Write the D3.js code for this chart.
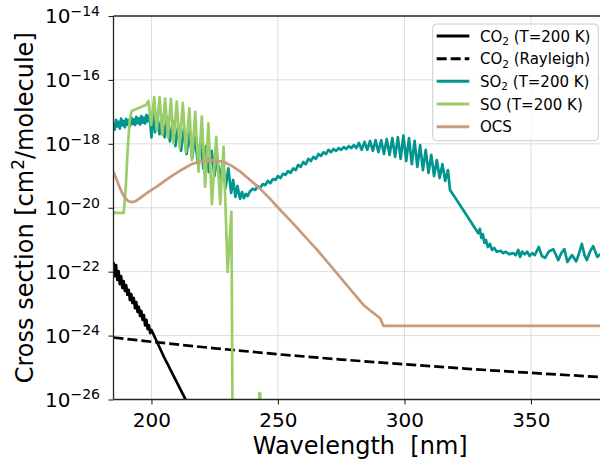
<!DOCTYPE html>
<html>
<head>
<meta charset="utf-8">
<script src="https://cdn.jsdelivr.net/npm/d3@7"></script>
<style>
  body { margin: 0; background: #fff; }
  svg { display: block; }
  text { font-family: "DejaVu Sans", sans-serif; fill: #000; }
</style>
</head>
<body>
<svg id="chart" width="600" height="463"></svg>
<script>
// Absorption cross sections [cm^2/molecule] versus wavelength [nm]

const co2T200 = [
  [185.0,2.0e-22],[185.5,7.3e-23],[186.0,1.6e-22],[186.5,5.5e-23],[187.0,1.05e-22],[187.5,4.1e-23],
  [188.0,7.3e-23],[188.5,3.1e-23],[189.0,5.1e-23],[189.5,2.5e-23],[190.0,3.8e-23],[190.5,1.9e-23],
  [191.0,2.7e-23],[191.5,1.3e-23],[192.0,2.0e-23],[192.5,1.05e-23],[193.0,1.5e-23],[193.5,7.2e-24],
  [194.0,1.12e-23],[194.5,5.5e-24],[195.0,7.9e-24],[195.5,4.1e-24],[196.0,5.9e-24],[196.5,3.1e-24],
  [197.0,4.4e-24],[197.5,2.1e-24],[198.0,3.1e-24],[198.5,1.6e-24],[199.0,2.1e-24],[199.5,1.2e-24],
  [200.0,1.5e-24],[205.0,2.1e-25],[210.0,3.5e-26],[215.0,5.8e-27],[220.0,9.6e-28]
];

const co2Rayleigh = [
  [185,8.7e-25],[200,6.4e-25],[225,4.0e-25],[250,2.6e-25],[275,1.78e-25],
  [300,1.26e-25],[325,9.1e-26],[350,6.8e-26],[380,4.9e-26]
];

const so2T200 = [
  [185.0,4.5e-18],[185.5,2.8e-18],[186.0,5.6e-18],[186.5,3.5e-18],[187.0,4.9e-18],[187.5,3.0e-18],
  [188.0,6.2e-18],[188.5,3.8e-18],[189.0,5.2e-18],[189.5,3.3e-18],[190.0,6.0e-18],[190.5,4.0e-18],
  [191.0,5.5e-18],[191.5,3.6e-18],[192.0,6.8e-18],[192.5,4.2e-18],[193.0,5.8e-18],[193.5,3.9e-18],
  [194.0,7.0e-18],[194.5,4.4e-18],[195.0,6.3e-18],[195.5,4.0e-18],[196.0,7.4e-18],[196.5,4.6e-18],
  [197.0,6.6e-18],[197.5,4.3e-18],[198.0,8.0e-18],[198.5,5.0e-18],[199.0,7.6e-18],[199.5,5.2e-18],
  [200.0,1.6e-18],[200.6,1.0e-17],[201.4,2.3e-18],[202.3,8.5e-18],[203.2,2.0e-18],[204.2,7.4e-18],
  [205.2,1.6e-18],[206.2,6.5e-18],[207.3,1.2e-18],[208.4,5.1e-18],[209.5,8.5e-19],[210.6,3.9e-18],
  [211.7,6.0e-19],[212.8,2.9e-18],[213.9,4.8e-19],[215.0,2.2e-18],[216.1,3.6e-19],[217.2,1.6e-18],
  [218.3,2.5e-19],[219.4,1.2e-18],[220.5,1.7e-19],[221.6,8.5e-19],[222.7,1.3e-19],[223.8,6.0e-19],
  [224.9,9.8e-20],[226.0,4.2e-19],[227.1,6.9e-20],[228.2,2.9e-19],[229.3,4.2e-20],[230.4,1.7e-19],
  [231.5,2.9e-20],[232.3,7.4e-20],[233.2,2.2e-20],[234.0,4.8e-20],[235.0,1.9e-20],[235.8,3.1e-20],
  [236.5,2.0e-20],[237.3,2.7e-20],[238.0,2.3e-20],[239.0,3.3e-20],[240.0,3.9e-20],
  [241,3.6e-20],[242,4.8e-20],[243,4.2e-20],[244,5.5e-20],[245,5.1e-20],[246,6.9e-20],[247,5.9e-20],
  [248,7.9e-20],[249,7.4e-20],[250,9.8e-20],[251,8.5e-20],[252,1.15e-19],[253,1.07e-19],[254,1.4e-19],
  [255,1.23e-19],[256,1.7e-19],[257,1.5e-19],[258,2.2e-19],[259,1.9e-19],[260,2.7e-19],[261,2.3e-19],
  [262,3.4e-19],[263,2.9e-19],[264,3.9e-19],[265,3.4e-19],[266,4.8e-19],[267,4.2e-19],[268,5.5e-19],
  [269,4.8e-19],[270,6.5e-19],[271,5.5e-19],[272,6.9e-19],[273,6.0e-19],[274,7.4e-19],[275,6.5e-19],
  [276,7.9e-19],[277,6.9e-19],[278,8.5e-19],[279,7.4e-19],[280,9.1e-19],[281,7.4e-19],
  [282.0,1.07e-18],[283.1,6.5e-19],[284.2,1.15e-18],[285.3,6.5e-19],[286.4,1.23e-18],[287.5,6.0e-19],
  [288.6,1.3e-18],[289.7,5.5e-19],[290.8,1.3e-18],[291.9,4.8e-19],[293.0,1.4e-18],[294.1,4.5e-19],
  [295.2,1.5e-18],[296.3,3.9e-19],[297.4,1.6e-18],[298.5,3.4e-19],[299.6,1.8e-18],[300.7,2.9e-19],
  [301.8,1.5e-18],[302.9,2.3e-19],[304.0,1.23e-18],[305.1,1.9e-19],[306.2,9.1e-19],[307.3,1.5e-19],
  [308.4,6.5e-19],[309.5,1.23e-19],[310.6,4.5e-19],[311.7,9.8e-20],[312.8,3.1e-19],[313.9,8.5e-20],
  [315.0,2.3e-19],[316.1,6.9e-20],[317.2,1.5e-19],[318.0,3.6e-20],
  [320,2.1e-20],[322,1.2e-20],[324,6.9e-21],[326,3.9e-21],[328,2.2e-21],[329.2,1.6e-21],
  [329.8,2.2e-21],[330.4,1.12e-21],[331.0,1.5e-21],[331.6,7.9e-22],[332.2,9.8e-22],[333.0,5.9e-22],
  [333.8,7.4e-22],[334.6,4.8e-22],[335.5,5.5e-22],[336.5,4.2e-22],[338,4.5e-22],[339,3.8e-22],
  [340,4.2e-22],[341.5,3.5e-22],[343,3.8e-22],[344,3.3e-22],[345,4.8e-22],[345.7,2.9e-22],
  [346.5,4.2e-22],[347.5,3.5e-22],[348.5,4.2e-22],[349.5,3.1e-22],[350.5,3.8e-22],[351.5,3.3e-22],
  [353.1,5.9e-22],[354.3,3.1e-22],[355.6,2.7e-22],[357,4.2e-22],[358.8,5.1e-22],[360.8,2.3e-22],
  [362,3.8e-22],[363.2,5.1e-22],[364.4,2.0e-22],[366.2,3.3e-22],[367.9,2.1e-22],[368.9,3.5e-22],
  [370.1,7.4e-22],[371.2,3.3e-22],[372.1,2.3e-22],[373.3,4.2e-22],[374.6,6.3e-22],[376.2,2.9e-22],
  [377.4,3.5e-22],[379,4.2e-22]
];

const soT200 = [
  [185.0,6.9e-21],[189.0,6.9e-21],[189.8,3.6e-20],[190.6,6.5e-19],[191.4,5.6e-18],[192.2,1.07e-17],
  [194.0,1.23e-17],[195.9,1.41e-17],[197.9,1.66e-17],[198.8,2.2e-17],[199.9,3.9e-18],[201.1,2.9e-17],
  [202.1,2.7e-18],[203.2,2.9e-17],[204.3,1.9e-18],[205.4,2.6e-17],[206.5,1.6e-18],[207.7,2.5e-17],
  [208.7,1.07e-18],[210.0,2.1e-17],[211.1,7.9e-19],[212.4,1.9e-17],[213.6,5.5e-19],[215.0,1.3e-17],
  [216.0,3.1e-19],[217.3,1.0e-17],[218.6,1.35e-19],[219.9,7.1e-18],[221.2,4.6e-20],[222.5,4.4e-18],
  [223.9,1.3e-20],[225.6,1.66e-18],[227.2,1.3e-20],[228.5,8.1e-19],[230.1,9.8e-23],[231.6,7.4e-21],
  [232.3,1e-30],[242.3,1e-30],[242.6,1.6e-26],[243.0,1.6e-26],[243.3,1e-30],[250.0,1e-30]
];

const ocs = [
  [185.0,1.32e-19],[186.0,8.5e-20],[187.2,4.8e-20],[188.4,2.9e-20],[189.6,2.0e-20],[191.0,1.6e-20],
  [192.4,1.5e-20],[193.6,1.58e-20],[195.5,2.0e-20],[198.7,3.1e-20],[202.1,4.6e-20],[205.4,7.1e-20],
  [208.7,1.07e-19],[212.0,1.55e-19],[215.3,2.2e-19],[218.5,2.7e-19],[221.9,3.1e-19],[225.2,3.0e-19],
  [228.5,2.75e-19],[231.9,2.0e-19],[235.1,1.35e-19],[239.0,7.4e-20],[243.0,3.9e-20],[246.9,1.9e-20],
  [250.9,8.5e-21],[255.6,3.5e-21],[260.8,1.23e-21],[265.5,4.8e-22],[270.6,1.6e-22],[277.2,3.8e-23],
  [283.8,9.1e-24],[287.2,5.5e-24],[290.4,3.5e-24],[291.7,2.0e-24],[380.0,2.0e-24]
];

const xTicks = [200, 250, 300, 350];
const yTickExponents = [-26, -24, -22, -20, -18, -16, -14];

const series = [
  { name: "CO2 (T=200 K)",     sub: ["CO", "2", " (T=200 K)"],   data: co2T200,     color: "#000000", dash: null },
  { name: "CO2 (Rayleigh)",    sub: ["CO", "2", " (Rayleigh)"],  data: co2Rayleigh, color: "#000000", dash: "10,4" },
  { name: "SO2 (T=200 K)",     sub: ["SO", "2", " (T=200 K)"],   data: so2T200,     color: "#00968f", dash: null },
  { name: "SO (T=200 K)",      sub: ["SO (T=200 K)"],            data: soT200,      color: "#9acd68", dash: null },
  { name: "OCS",               sub: ["OCS"],                     data: ocs,         color: "#c79b7c", dash: null }
];

const svg = d3.select("#chart");
const plot = { left: 113.5, top: 16, bottom: 399.5, right: 606.85 };

const x = d3.scaleLinear().domain([185, 380]).range([plot.left, plot.right]);
const y = d3.scaleLog().domain([1e-26, 1e-14]).range([plot.bottom, plot.top]);

svg.append("defs").append("clipPath").attr("id", "plot-clip")
  .append("rect")
  .attr("x", plot.left).attr("y", plot.top)
  .attr("width", plot.right - plot.left).attr("height", plot.bottom - plot.top);

// grid
const grid = svg.append("g").attr("stroke", "#dcdcdc").attr("stroke-width", 1);
grid.selectAll("line.gx").data(xTicks).join("line")
  .attr("x1", d => x(d)).attr("x2", d => x(d))
  .attr("y1", plot.top).attr("y2", plot.bottom);
grid.selectAll("line.gy").data(yTickExponents.slice(1, -1)).join("line")
  .attr("x1", plot.left).attr("x2", plot.right)
  .attr("y1", d => y(Math.pow(10, d))).attr("y2", d => y(Math.pow(10, d)));

// curves
const line = d3.line().x(d => x(d[0])).y(d => y(d[1]));
const curves = svg.append("g").attr("clip-path", "url(#plot-clip)");
series.forEach(s => {
  curves.append("path")
    .datum(s.data)
    .attr("d", line)
    .attr("fill", "none")
    .attr("stroke", s.color)
    .attr("stroke-width", 2.7)
    .attr("stroke-linejoin", "round")
    .attr("stroke-dasharray", s.dash);
});

// axes
const axisColor = "#262626";
const xAxis = svg.append("g")
  .attr("transform", `translate(0,${plot.bottom})`)
  .call(d3.axisBottom(x).tickValues(xTicks).tickSize(5).tickPadding(8).tickFormat(d3.format("d")));
xAxis.select(".domain").remove();
xAxis.selectAll(".tick line").attr("stroke", axisColor).attr("stroke-width", 1.1);
xAxis.selectAll(".tick text").attr("font-size", 20).attr("font-family", "DejaVu Sans").attr("fill", "#000");

const yAxis = svg.append("g")
  .attr("transform", `translate(${plot.left},0)`)
  .call(d3.axisLeft(y).tickValues(yTickExponents.map(e => Math.pow(10, e))).tickSize(5).tickFormat(""));
yAxis.select(".domain").remove();
yAxis.selectAll(".tick line").attr("stroke", axisColor).attr("stroke-width", 1.1);

// y tick labels as powers of ten
const yLabels = svg.append("g");
yTickExponents.forEach(e => {
  const t = yLabels.append("text")
    .attr("x", 100)
    .attr("y", y(Math.pow(10, e)) + 7.3)
    .attr("text-anchor", "end")
    .attr("font-size", 20);
  t.append("tspan").text("10");
  t.append("tspan").attr("dy", -7.5).attr("font-size", 14).text("\u2212" + Math.abs(e));
});

// spines
svg.append("g").attr("stroke", axisColor).attr("stroke-width", 1.3)
  .selectAll("line")
  .data([
    [plot.left, plot.top, plot.left, plot.bottom],
    [plot.left, plot.top, plot.right, plot.top],
    [plot.left, plot.bottom, plot.right, plot.bottom]
  ])
  .join("line")
  .attr("x1", d => d[0]).attr("y1", d => d[1])
  .attr("x2", d => d[2]).attr("y2", d => d[3]);

// axis titles
svg.append("text")
  .attr("x", (plot.left + plot.right) / 2)
  .attr("y", 454)
  .attr("text-anchor", "middle")
  .attr("font-size", 24)
  .text("Wavelength  [nm]")
  .attr("xml:space", "preserve")
  .style("white-space", "pre");

const yTitle = svg.append("text")
  .attr("transform", `translate(33,${(plot.top + plot.bottom) / 2}) rotate(-90)`)
  .attr("text-anchor", "middle")
  .attr("font-size", 24);
yTitle.append("tspan").text("Cross section [cm");
yTitle.append("tspan").attr("dy", -9).attr("font-size", 17).text("2");
yTitle.append("tspan").attr("dy", 9).text("/molecule]");

// legend
const legend = svg.append("g");
legend.append("rect")
  .attr("x", 432.7).attr("y", 24)
  .attr("width", 165.6).attr("height", 116.7)
  .attr("rx", 4).attr("ry", 4)
  .attr("fill", "#fff").attr("fill-opacity", 0.8)
  .attr("stroke", "#cccccc").attr("stroke-width", 1);

const rowY = d3.scaleLinear().domain([0, 4]).range([36, 126.7]);
series.forEach((s, i) => {
  const yy = rowY(i);
  legend.append("line")
    .attr("x1", 436.7).attr("x2", 469.3)
    .attr("y1", yy).attr("y2", yy)
    .attr("stroke", s.color)
    .attr("stroke-width", 3)
    .attr("stroke-dasharray", s.dash);
  const t = legend.append("text")
    .attr("x", 480).attr("y", yy + 5.5)
    .attr("font-size", 15)
    .style("white-space", "pre");
  if (s.sub.length === 3) {
    t.append("tspan").text(s.sub[0]);
    t.append("tspan").attr("dy", 3.5).attr("font-size", 10.5).text(s.sub[1]);
    t.append("tspan").attr("dy", -3.5).text(s.sub[2]);
  } else {
    t.append("tspan").text(s.sub[0]);
  }
});
</script>
</body>
</html>
